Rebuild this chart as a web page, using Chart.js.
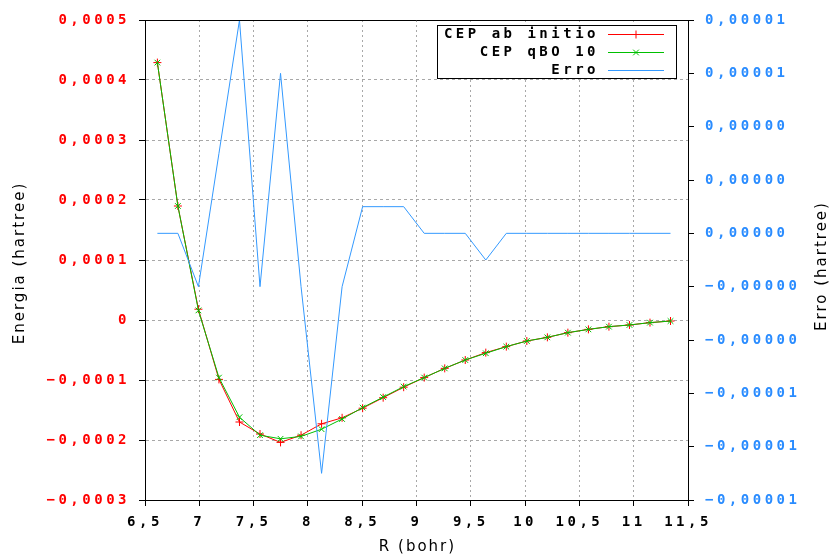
<!DOCTYPE html>
<html>
<head>
<meta charset="utf-8">
<script src="https://cdn.jsdelivr.net/npm/chart.js@4/dist/chart.umd.min.js"></script>
<style>
  html, body { margin: 0; padding: 0; background: #fff; }
  #wrap { width: 835px; height: 558px; }
</style>
</head>
<body>
<div id="wrap"><canvas id="cepChart" width="835" height="558"></canvas></div>
<script>
// R (bohr): 3.5 .. 6.0 angstrom in steps of 0.1 A
const rBohr = [6.614, 6.803, 6.992, 7.181, 7.370, 7.559, 7.748, 7.937, 8.126, 8.315,
               8.504, 8.693, 8.882, 9.071, 9.260, 9.449, 9.638, 9.827, 10.016, 10.205,
               10.394, 10.583, 10.772, 10.961, 11.150, 11.339];

// energies in hartree
const cepAbInitio = [0.000429, 0.000190, 0.0000180, -0.0000990, -0.0001700, -0.0001900,
                     -0.0002040, -0.0001920, -0.0001730, -0.0001630, -0.0001470, -0.0001295,
                     -0.0001120, -0.0000960, -0.0000806, -0.0000667, -0.0000544, -0.0000444,
                     -0.0000350, -0.0000289, -0.0000211, -0.0000156, -0.0000111, -0.0000083,
                     -0.0000044, -0.0000017];
const cepQbo10 = [0.000429, 0.000190, 0.0000160, -0.0000960, -0.0001620, -0.0001920,
                  -0.0001980, -0.0001940, -0.0001820, -0.0001650, -0.0001460, -0.0001285,
                  -0.0001110, -0.0000960, -0.0000806, -0.0000667, -0.0000554, -0.0000444,
                  -0.0000350, -0.0000289, -0.0000211, -0.0000156, -0.0000111, -0.0000083,
                  -0.0000044, -0.0000017];
const erro = [0, 0, -0.000002, 0.000003, 0.000008, -0.000002, 0.000006, -0.000002, -0.000009, -0.000002,
              0.000001, 0.000001, 0.000001, 0, 0, 0, -0.000001, 0, 0, 0,
              0, 0, 0, 0, 0, 0];

const xTicks = [6.5, 7, 7.5, 8, 8.5, 9, 9.5, 10, 10.5, 11, 11.5];
const xTickLabels = ['6,5', '7', '7,5', '8', '8,5', '9', '9,5', '10', '10,5', '11', '11,5'];
const energyTicks = [-0.0003, -0.0002, -0.0001, 0, 0.0001, 0.0002, 0.0003, 0.0004, 0.0005];
const energyTickLabels = ['−0,0003', '−0,0002', '−0,0001', '0', '0,0001', '0,0002', '0,0003', '0,0004', '0,0005'];
const erroTicks = [-0.00001, -0.000008, -0.000006, -0.000004, -0.000002, 0, 0.000002, 0.000004, 0.000006, 0.000008];
const erroTickLabels = ['−0,00001', '−0,00001', '−0,00001', '−0,00000', '−0,00000', '0,00000', '0,00000', '0,00000', '0,00001', '0,00001'];

const titleX = 'R (bohr)';
const titleY = 'Energia (hartree)';
const titleY2 = 'Erro (hartree)';

const tickFont = { family: 'DejaVu Sans Mono', size: 14, weight: 'bold' };
const gridGray = '#a8a8a8';
const erroBlue = '#3399ff';
const erroTickBlue = '#2a8cff';

function pts(ys) {
    return rBohr.map((r, i) => ({ x: r, y: ys[i] }));
}

// gnuplot-ish frame, axis titles and key box
const gnuplotLook = {
    id: 'gnuplotLook',
    beforeUpdate(chart) { chart.ctx.letterSpacing = '3.5px'; },
    beforeDraw(chart) { chart.ctx.letterSpacing = '3.5px'; },
    afterDraw(chart) {
        const ctx = chart.ctx;
        const a = chart.chartArea;
        ctx.save();
        ctx.strokeStyle = '#000';
        ctx.lineWidth = 1;
        ctx.beginPath();
        ctx.moveTo(a.left, a.top + 0.5);
        ctx.lineTo(a.right, a.top + 0.5);
        ctx.stroke();

        // axis titles
        ctx.fillStyle = '#000';
        ctx.letterSpacing = '2px';
        ctx.font = '15px "DejaVu Sans"';
        ctx.textAlign = 'center';
        ctx.textBaseline = 'middle';
        ctx.fillText(titleX, (a.left + a.right) / 2 + 1, 547);
        ctx.save();
        ctx.translate(20, (a.top + a.bottom) / 2 + 3);
        ctx.rotate(-Math.PI / 2);
        ctx.fillText(titleY, 0, 0);
        ctx.restore();
        ctx.save();
        ctx.translate(822, (a.top + a.bottom) / 2 + 6);
        ctx.rotate(-Math.PI / 2);
        ctx.fillText(titleY2, 0, 0);
        ctx.restore();

        // key
        ctx.letterSpacing = '3.5px';
        ctx.fillStyle = '#fff';
        ctx.fillRect(437.5, 25.5, 239, 53);
        ctx.strokeStyle = '#000';
        ctx.strokeRect(437.5, 25.5, 239, 53);
        ctx.font = 'bold 14px "DejaVu Sans Mono"';
        ctx.textAlign = 'right';
        chart.data.datasets.forEach((ds, i) => {
            const y = 34.5 + i * 18;
            ctx.fillStyle = '#000';
            ctx.fillText(ds.label, 599, y);
            ctx.strokeStyle = ds.borderColor;
            ctx.lineWidth = 1;
            ctx.beginPath();
            ctx.moveTo(608, y);
            ctx.lineTo(664, y);
            ctx.stroke();
            if (ds.pointRadius > 0) {
                Chart.helpers.drawPoint(ctx, {
                    pointStyle: ds.pointStyle, radius: ds.pointRadius, rotation: 0, borderWidth: 1
                }, 636, y);
            }
        });
        ctx.restore();
    }
};

const ctx = document.getElementById('cepChart').getContext('2d');
const cepChart = new Chart(ctx, {
    type: 'line',
    data: {
        datasets: [{
            label: 'CEP ab initio',
            data: pts(cepAbInitio),
            yAxisID: 'y',
            borderColor: '#ff0000',
            backgroundColor: '#ff0000',
            borderWidth: 1,
            pointStyle: 'cross',
            pointRadius: 4,
            pointBorderWidth: 1,
            order: 3
        }, {
            label: 'CEP qBO 10',
            data: pts(cepQbo10),
            yAxisID: 'y',
            borderColor: '#00c000',
            backgroundColor: '#00c000',
            borderWidth: 1,
            pointStyle: 'crossRot',
            pointRadius: 4,
            pointBorderWidth: 1,
            order: 2
        }, {
            label: 'Erro',
            data: pts(erro),
            yAxisID: 'y2',
            borderColor: erroBlue,
            backgroundColor: erroBlue,
            borderWidth: 1,
            pointRadius: 0,
            order: 1
        }]
    },
    options: {
        responsive: false,
        animation: false,
        events: [],
        layout: { padding: { top: 20 } },
        plugins: { legend: { display: false }, tooltip: { enabled: false } },
        scales: {
            x: {
                type: 'linear',
                min: 6.5,
                max: 11.5,
                afterBuildTicks: s => { s.ticks = xTicks.map(v => ({ value: v })); },
                afterFit: s => { s.height = 58; },
                ticks: {
                    callback: (v, i) => xTickLabels[i],
                    color: '#000',
                    font: tickFont,
                    padding: 8,
                    maxRotation: 0,
                    autoSkip: false
                },
                grid: { color: gridGray, tickColor: '#000', tickLength: 6 },
                border: { color: '#000', dash: [2, 3] }
            },
            y: {
                position: 'left',
                min: -0.0003,
                max: 0.0005,
                afterBuildTicks: s => { s.ticks = energyTicks.map(v => ({ value: v })); },
                afterFit: s => { s.width = 145; },
                ticks: {
                    callback: (v, i) => energyTickLabels[i],
                    color: '#ff0000',
                    font: tickFont,
                    padding: 9
                },
                grid: { color: gridGray, tickColor: '#000', tickLength: 6 },
                border: { color: '#000', dash: [3, 3] }
            },
            y2: {
                position: 'right',
                min: -0.00001,
                max: 0.000008,
                afterBuildTicks: s => { s.ticks = erroTicks.map(v => ({ value: v })); },
                afterFit: s => { s.width = 147; },
                ticks: {
                    callback: (v, i) => erroTickLabels[i],
                    color: erroTickBlue,
                    font: tickFont,
                    padding: 11
                },
                grid: { drawOnChartArea: false, tickColor: '#000', tickLength: 6 },
                border: { color: '#000' }
            }
        }
    },
    plugins: [gnuplotLook]
});
</script>
</body>
</html>
